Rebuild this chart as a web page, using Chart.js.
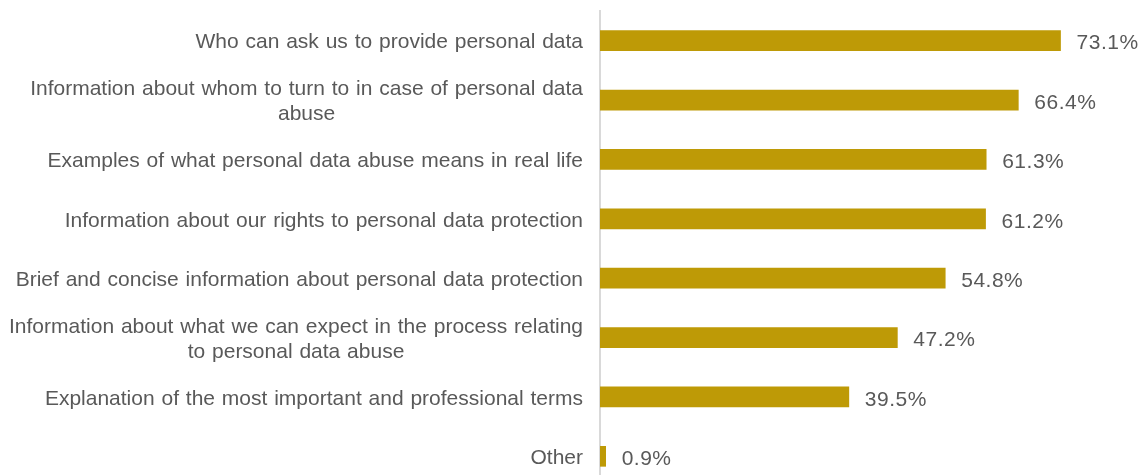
<!DOCTYPE html>
<html>
<head>
<meta charset="utf-8">
<script src="https://cdn.jsdelivr.net/npm/chart.js@4"></script>
<style>
  html, body { margin: 0; padding: 0; background: #fff; overflow: hidden; }
  #wrap { width: 1144px; height: 486px; position: relative; }
</style>
</head>
<body>
<div id="wrap"><canvas id="chart"></canvas></div>
<script>
// survey answers
const categories = [
    ['Who can ask us to provide personal data'],
    ['Information about whom to turn to in case of personal data', 'abuse'],
    ['Examples of what personal data abuse means in real life'],
    ['Information about our rights to personal data protection'],
    ['Brief and concise information about personal data protection'],
    ['Information about what we can expect in the process relating', 'to personal data abuse'],
    ['Explanation of the most important and professional terms'],
    ['Other']
];
const values = [73.1, 66.4, 61.3, 61.2, 54.8, 47.2, 39.5, 0.9];
const valueLabels = values.map(v => v.toFixed(1) + '%');

const FONT = '21px "Liberation Sans", Arial, sans-serif';
const TEXT = '#595959';

// category labels: block right-aligned against the axis, lines centred inside the block
const categoryLabels = {
    id: 'categoryLabels',
    afterDraw(chart) {
        const ctx = chart.ctx;
        const yScale = chart.scales.y;
        const right = 583;
        ctx.save();
        ctx.font = FONT;
        ctx.fillStyle = TEXT;
        ctx.wordSpacing = '1px';
        ctx.textAlign = 'center';
        ctx.textBaseline = 'middle';
        const lineH = 25;
        categories.forEach((lines, i) => {
            const y = yScale.getPixelForValue(i) + 2;
            const w = Math.max(...lines.map(l => ctx.measureText(l).width));
            const cx = right - w / 2;
            const y0 = y - (lines.length - 1) * lineH / 2;
            lines.forEach((l, j) => ctx.fillText(l, cx, y0 + j * lineH));
        });
        ctx.restore();
    }
};

// percentage labels at the end of each bar
const barValues = {
    id: 'barValues',
    afterDatasetsDraw(chart) {
        const ctx = chart.ctx;
        const meta = chart.getDatasetMeta(0);
        ctx.save();
        ctx.font = FONT;
        ctx.fillStyle = TEXT;
        ctx.letterSpacing = '0.5px';
        ctx.textAlign = 'left';
        ctx.textBaseline = 'middle';
        meta.data.forEach((bar, i) => {
            ctx.fillText(valueLabels[i], bar.x + 16, bar.y + 3);
        });
        ctx.restore();
    }
};

new Chart(document.getElementById('chart').getContext('2d'), {
    type: 'bar',
    data: {
        labels: categories.map(c => c.join(' ')),
        datasets: [{
            data: values,
            backgroundColor: '#BE9A06',
            barThickness: 20
        }]
    },
    options: {
        indexAxis: 'y',
        responsive: true,
        maintainAspectRatio: false,
        animation: false,
        layout: { padding: { top: 11, right: 40, left: 0, bottom: 0 } },
        plugins: { legend: { display: false }, tooltip: { enabled: false } },
        scales: {
            x: { display: false, min: 0, max: 80 },
            y: {
                ticks: { display: false },
                grid: { display: false },
                border: { display: true, color: '#d9d9d9', width: 2 },
                afterFit(scale) { scale.width = 600; }
            }
        }
    },
    plugins: [categoryLabels, barValues]
});
</script>
</body>
</html>
